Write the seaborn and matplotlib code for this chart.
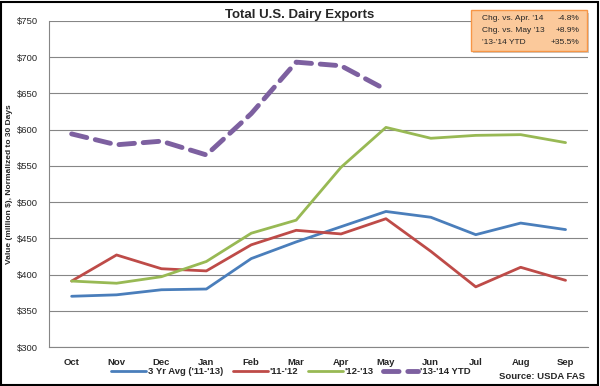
import matplotlib
matplotlib.use("Agg")
import matplotlib.pyplot as plt
import pandas as pd
import seaborn as sns
from matplotlib.lines import Line2D
from matplotlib.patches import FancyBboxPatch

months = ["Oct", "Nov", "Dec", "Jan", "Feb", "Mar", "Apr", "May", "Jun", "Jul", "Aug", "Sep"]
avg_3yr = [370, 372, 379, 380, 422, 445, 466, 487, 479, 455, 471, 462]
fy_11_12 = [391, 427, 408, 405, 441, 461, 456, 477, 432, 383, 410, 392]
fy_12_13 = [391, 388, 397, 418, 457, 475, 548, 603, 588, 592, 593, 582]
fy_13_14 = [594, 579, 584, 565, 622, 693, 688, 655]

series_names = ["3 Yr Avg ('11-'13)", "'11-'12", "'12-'13", "'13-'14 YTD"]
colors = ["#4A7EBB", "#BE4B48", "#98B954", "#7D60A0"]

box_rows = [("Chg. vs. Apr. '14", "-4.8%"), ("Chg. vs. May '13", "+8.9%"), ("'13-'14 YTD", "+35.5%")]

rows = []
for name, vals in zip(series_names, [avg_3yr, fy_11_12, fy_12_13, fy_13_14]):
    for i, v in enumerate(vals):
        rows.append({"series": name, "month": i, "value": v})
df = pd.DataFrame(rows)

sns.set_style("white")
plt.rcParams["font.family"] = ["Liberation Sans", "DejaVu Sans"]

fig = plt.figure(figsize=(6, 3.86), dpi=100)
ax = fig.add_axes([0.082, 0.101, 0.898, 0.845])

for name, c in zip(series_names[:3], colors[:3]):
    sns.lineplot(data=df[df.series == name], x="month", y="value", color=c, lw=2, ax=ax)
sns.lineplot(data=df[df.series == series_names[3]], x="month", y="value", color=colors[3],
             lw=3.5, ax=ax, dashes=False)
ax.lines[-1].set_dashes([3.2, 1.8])
ax.lines[-1].set_dash_capstyle("round")

ax.set_xlim(-0.5, 11.5)
ax.set_ylim(300, 750)
ax.set_yticks(range(300, 751, 50))
ax.set_yticklabels([f"${v}" for v in range(300, 751, 50)], fontsize=6.8)
ax.set_xticks(range(12))
ax.set_xticklabels(months, fontsize=6.8, fontweight="bold")
ax.set_xticks([i - 0.5 for i in range(13)], minor=True)
ax.tick_params(axis="x", which="major", length=0, pad=8)
ax.tick_params(axis="x", which="minor", length=4, color="#868686", direction="out")
ax.tick_params(axis="y", length=3, color="#868686", direction="out", pad=5)
ax.yaxis.grid(True, color="#868686", lw=0.8)
ax.set_axisbelow(True)
for s in ["top", "right"]:
    ax.spines[s].set_visible(False)
for s in ["left", "bottom"]:
    ax.spines[s].set_color("#868686")
ax.set_xlabel("")
ax.set_ylabel("Value (million $), Normalized to 30 Days", fontsize=6, fontweight="bold", labelpad=3)

fig.text(0.5, 0.962, "Total U.S. Dairy Exports", ha="center", va="center",
         fontsize=9.5, fontweight="bold")

# legend
handles = [Line2D([], [], color=c, lw=2) for c in colors[:3]]
handles.append(Line2D([], [], color=colors[3], lw=3.5, dashes=[3.2, 1.8], dash_capstyle="round"))
fig.legend(handles, series_names, loc="center", bbox_to_anchor=(0.485, 0.037), ncol=4,
           frameon=False, handlelength=3.7, handletextpad=0.2, columnspacing=1.0,
           prop={"weight": "bold", "size": 6.8})
fig.text(0.975, 0.025, "Source: USDA FAS", ha="right", va="center", fontsize=6.8, fontweight="bold")

# summary box
bx, by, bw, bh = 0.785, 0.868, 0.193, 0.105
shadow = FancyBboxPatch((bx + 0.004, by - 0.006), bw, bh, boxstyle="square,pad=0",
                        transform=fig.transFigure, fc="#c8c8c8", ec="none", zorder=5)
box = FancyBboxPatch((bx, by), bw, bh, boxstyle="square,pad=0", transform=fig.transFigure,
                     fc="#FBC99B", ec="#F79646", lw=1, zorder=6)
fig.patches.extend([shadow, box])
for i, (lab, val) in enumerate(box_rows):
    yy = by + bh - 0.022 - i * 0.031
    fig.text(bx + 0.018, yy, lab, fontsize=6, va="center", zorder=7)
    fig.text(bx + bw - 0.012, yy, val, fontsize=6, va="center", ha="right", zorder=7)

# outer border
fig.patches.append(plt.Rectangle((0.002, 0.003), 0.995, 0.993, transform=fig.transFigure,
                                 fill=False, ec="black", lw=1.5, zorder=10))

fig.savefig("out.png", dpi=100)
